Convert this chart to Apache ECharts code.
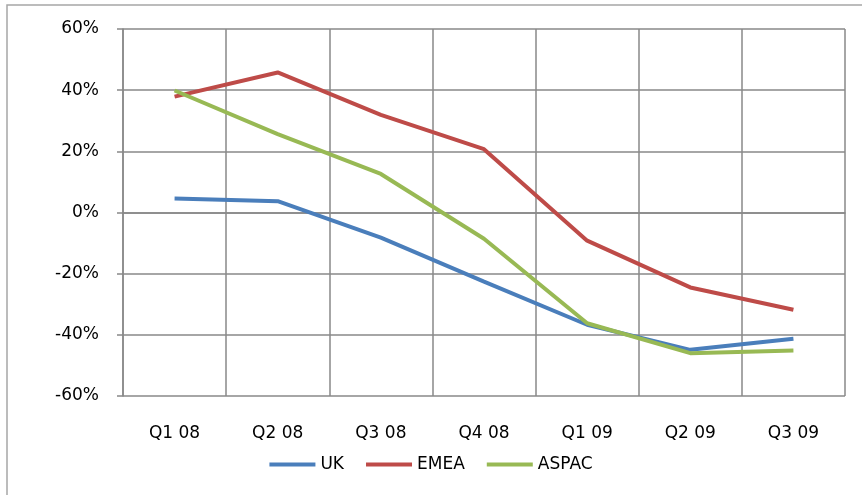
<!DOCTYPE html>
<html>
<head>
<meta charset="utf-8">
<script src="https://cdn.jsdelivr.net/npm/echarts@6/dist/echarts.min.js"></script>
<style>
  html, body { margin: 0; padding: 0; background: #fff; }
  #chart { width: 862px; height: 495px; }
</style>
</head>
<body>
<div id="chart"></div>
<script>
// quarters on the x axis
var quarters = ['Q1 08', 'Q2 08', 'Q3 08', 'Q4 08', 'Q1 09', 'Q2 09', 'Q3 09'];
// growth in %
var uk    = [4.6, 3.7, -8.2, -22.6, -36.7, -44.9, -41.3];
var emea  = [37.9, 45.8, 31.9, 20.7, -9.2, -24.5, -31.8];
var aspac = [39.9, 25.6, 12.6, -8.6, -36.2, -46.0, -45.1];

var fontName = 'DejaVu Sans, sans-serif';
var gridColor = '#888888';

var chart = echarts.init(document.getElementById('chart'));

function line(name, data, color) {
  return {
    name: name,
    type: 'line',
    data: data,
    symbol: 'none',
    smooth: false,
    lineStyle: { color: color, width: 4 },
    itemStyle: { color: color }
  };
}

var option = {
  animation: false,
  backgroundColor: '#fff',
  graphic: [{
    type: 'rect',
    shape: { x: 7, y: 5, width: 900, height: 520 },
    style: { fill: 'none', stroke: '#a6a6a6', lineWidth: 1.5 },
    silent: true
  }],
  grid: { left: 123, right: 17, top: 29, bottom: 99, containLabel: false },
  legend: {
    data: ['UK', 'EMEA', 'ASPAC'],
    top: 451,
    left: 'center',
    itemWidth: 46,
    itemHeight: 4,
    itemGap: 22,
    icon: 'rect',
    textStyle: { fontFamily: fontName, fontSize: 17, color: '#000' }
  },
  xAxis: {
    type: 'category',
    data: quarters,
    boundaryGap: true,
    axisLine: { show: true, lineStyle: { color: gridColor, width: 1.5 } },
    axisTick: { show: false },
    splitLine: { show: true, lineStyle: { color: gridColor, width: 1.5 } },
    axisLabel: { fontFamily: fontName, fontSize: 17, color: '#000', margin: 29 }
  },
  yAxis: {
    type: 'value',
    min: -60,
    max: 60,
    interval: 20,
    axisLine: { show: true, lineStyle: { color: gridColor, width: 1.5 } },
    axisTick: { show: true, length: 6, lineStyle: { color: gridColor, width: 1.5 } },
    splitLine: { show: true, lineStyle: { color: gridColor, width: 1.5 } },
    axisLabel: {
      fontFamily: fontName, fontSize: 17, color: '#000', margin: 24,
      formatter: function (v) { return v + '%'; }
    }
  },
  series: [
    line('UK', uk, '#4A7EBB'),
    line('EMEA', emea, '#BE4B48'),
    line('ASPAC', aspac, '#98B954')
  ]
};

chart.setOption(option);
</script>
</body>
</html>
